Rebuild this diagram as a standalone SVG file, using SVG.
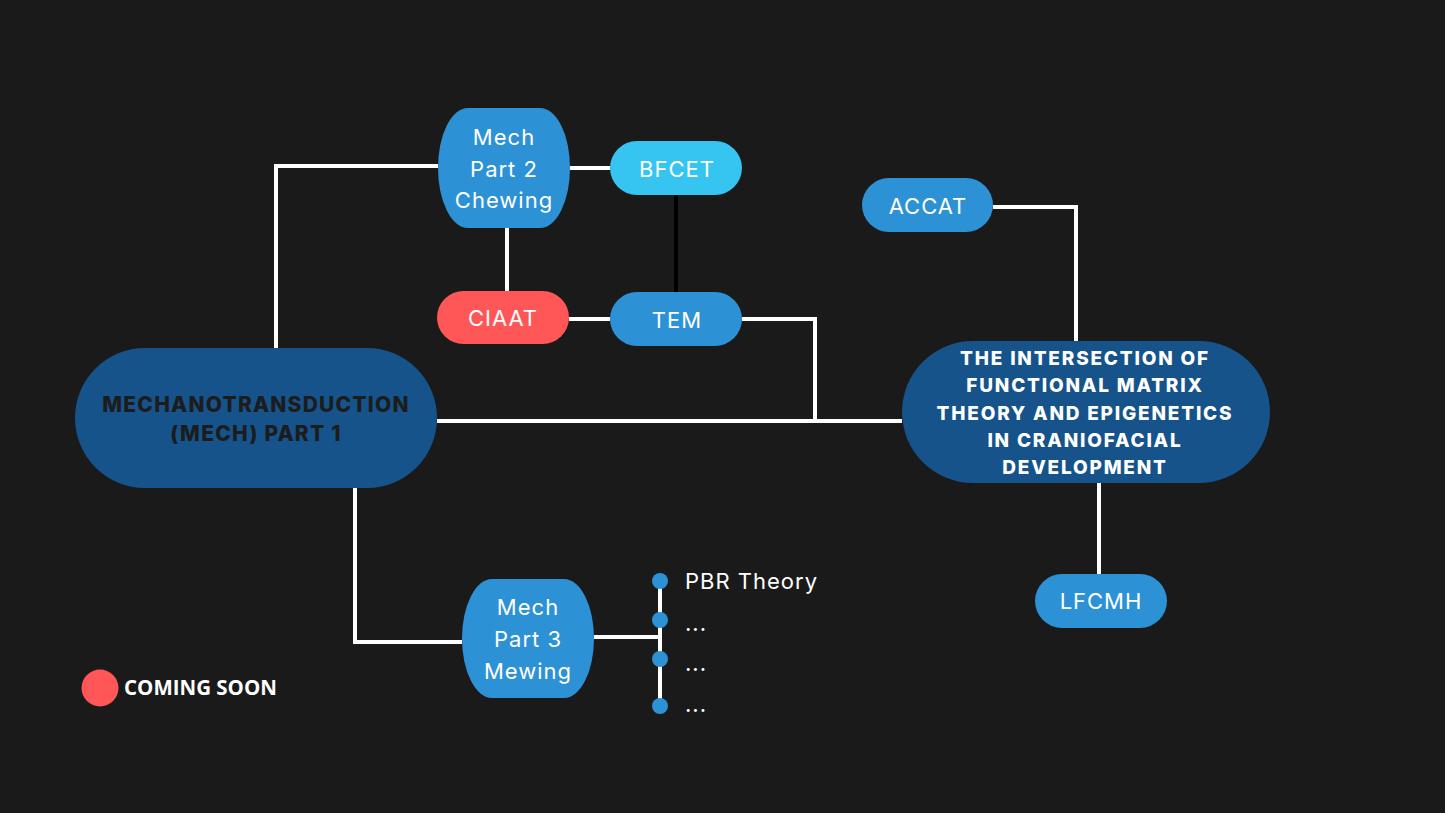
<svg xmlns="http://www.w3.org/2000/svg" width="1445" height="813" viewBox="0 0 1445 813">
<style>
.ln{stroke:#ffffff;stroke-width:4;fill:none}
.blk{stroke:#000000;stroke-width:4;fill:none}
.mid{fill:#2d91d6}
.dark{fill:#15538a}
.t{font-family:Inter,"Liberation Sans",sans-serif;font-size:22px;fill:#ffffff;text-anchor:middle;letter-spacing:1px}
.tb{font-family:Inter,"Liberation Sans",Arial,sans-serif;font-weight:800;text-anchor:middle}
.dot{fill:#2d91d6}
</style>
<rect width="1445" height="813" fill="#1a1a1a"/>
<g id="connectors">
<polyline class="ln" points="276,348 276,166 438,166"/>
<line class="ln" x1="570" y1="168" x2="610" y2="168"/>
<line class="ln" x1="507" y1="228" x2="507" y2="291"/>
<line class="blk" x1="676" y1="195" x2="676" y2="292"/>
<line class="ln" x1="569" y1="319" x2="610" y2="319"/>
<polyline class="ln" points="742,319 815,319 815,421"/>
<line class="ln" x1="437" y1="421" x2="902" y2="421"/>
<polyline class="ln" points="993,207 1076,207 1076,341"/>
<line class="ln" x1="1099" y1="483" x2="1099" y2="574"/>
<polyline class="ln" points="355,488 355,642 462,642"/>
<line class="ln" x1="594" y1="637" x2="660" y2="637"/>
<line class="ln" x1="660" y1="581" x2="660" y2="706"/>
</g>
<g id="mech1">
<rect class="dark" x="75" y="348" width="362" height="140" rx="70" ry="70"/>
<text class="tb" x="256" y="412" font-size="21" letter-spacing="1.2" fill="#1c1c1c">MECHANOTRANSDUCTION</text>
<text class="tb" x="256" y="441" font-size="21" letter-spacing="1.2" fill="#1c1c1c">(MECH) PART 1</text>
</g>
<g id="mech2">
<rect class="mid" x="438" y="108" width="132" height="120" rx="30" ry="60"/>
<text class="t" x="504" y="145">Mech</text>
<text class="t" x="504" y="177">Part 2</text>
<text class="t" x="504" y="208">Chewing</text>
</g>
<g id="bfcet">
<rect x="610" y="141" width="132" height="54" rx="27" fill="#36c5f0"/>
<text class="t" x="677" y="177">BFCET</text>
</g>
<g id="ciaat">
<rect x="437" y="291" width="132" height="53" rx="26.5" fill="#ff5757"/>
<text class="t" x="503" y="326">CIAAT</text>
</g>
<g id="tem">
<rect class="mid" x="610" y="292" width="132" height="54" rx="27"/>
<text class="t" x="677" y="328">TEM</text>
</g>
<g id="accat">
<rect class="mid" x="862" y="178" width="131" height="54" rx="27"/>
<text class="t" x="928" y="214">ACCAT</text>
</g>
<g id="intersection">
<rect class="dark" x="902" y="341" width="368" height="142" rx="71" ry="71"/>
<g class="tb" font-size="19" letter-spacing="1.8" fill="#ffffff">
<text x="1085" y="365">THE INTERSECTION OF</text>
<text x="1085" y="392">FUNCTIONAL MATRIX</text>
<text x="1085" y="420">THEORY AND EPIGENETICS</text>
<text x="1085" y="447">IN CRANIOFACIAL</text>
<text x="1085" y="474">DEVELOPMENT</text>
</g>
</g>
<g id="lfcmh">
<rect class="mid" x="1035" y="574" width="132" height="54" rx="27"/>
<text class="t" x="1101" y="609">LFCMH</text>
</g>
<g id="mech3">
<rect class="mid" x="462" y="579" width="132" height="119" rx="30" ry="59.5"/>
<text class="t" x="528" y="615">Mech</text>
<text class="t" x="528" y="647">Part 3</text>
<text class="t" x="528" y="679">Mewing</text>
</g>
<g id="list">
<circle class="dot" cx="660" cy="581" r="8"/>
<circle class="dot" cx="660" cy="620" r="8"/>
<circle class="dot" cx="660" cy="659" r="8"/>
<circle class="dot" cx="660" cy="706" r="8"/>
<text class="t" x="685" y="589" style="text-anchor:start">PBR Theory</text>
<text class="t" x="685" y="631" style="text-anchor:start">...</text>
<text class="t" x="685" y="671" style="text-anchor:start">...</text>
<text class="t" x="685" y="712" style="text-anchor:start">...</text>
</g>
<g id="legend">
<circle cx="100" cy="688" r="18.5" fill="#ff5757"/>
<text x="124" y="695" font-family="'Open Sans','Liberation Sans',sans-serif" font-weight="bold" font-size="20.5" fill="#ffffff">COMING SOON</text>
</g>
</svg>
